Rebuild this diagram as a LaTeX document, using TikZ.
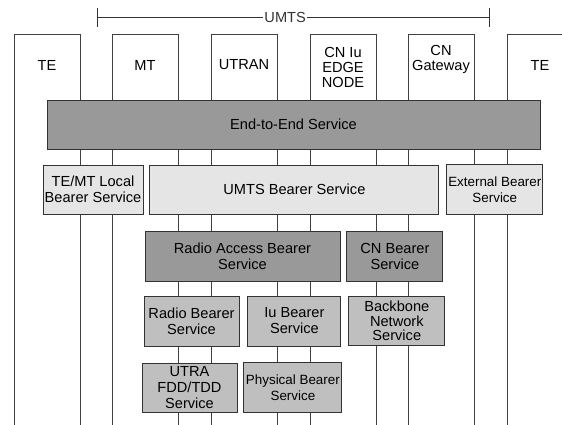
\documentclass[tikz,border=0pt]{standalone}
\usepackage{fontspec}
\setmainfont{Liberation Sans}
\usetikzlibrary{positioning}

\begin{document}
\begin{tikzpicture}[
  x=1pt, y=-1pt, line width=0.9pt,
  font=\fontsize{14.6}{16}\selectfont,
  col/.style={draw=black!75,anchor=north,minimum width=66pt,minimum height=420pt,inner sep=0pt},
  lbl/.style={align=center,inner sep=0pt},
  svc/.style={draw=black!80,align=center,inner sep=1pt,minimum height=49pt},
  dk/.style={svc,fill=black!40},
  lt/.style={svc,fill=black!10},
  md/.style={svc,fill=black!25},
  sm/.style={font=\fontsize{13.4}{15.5}\selectfont}
]
\useasboundingbox (0,0) rectangle (562,425);
\clip (0,0) rectangle (562,425);

% columns of the network elements
\foreach \x/\n/\y/\t in {47/te1/65/TE, 145/mt/65/MT, 244/utran/65/UTRAN,
    343/cniu/67/{CN Iu\\EDGE\\NODE}, 441/cngw/59/{CN\\Gateway}, 540/te2/65/TE}{
  \node[col] (c-\n) at (\x,34) {};
  \node[lbl,font=\fontsize{14.6}{15}\selectfont] (\n) at (\x,\y) {\t};
}

% UMTS bracket
\coordinate (ul) at (97,17);
\coordinate (ur) at (489,17);
\draw[black!80] (ul) -- node[pos=0.48,fill=white,inner sep=1pt]{UMTS} (ur);
\draw[black!80] ([yshift=9pt]ul) -- ([yshift=-10pt]ul);
\draw[black!80] ([yshift=9pt]ur) -- ([yshift=-10pt]ur);

% bearer services
\node[dk,minimum width=493pt] (e2e) at (293.5,124.5) {End-to-End Service};

\node[lt,minimum width=100pt] (local) at (93,189.5) {TE/MT Local\\Bearer Service};
\node[lt,minimum width=289pt,right=6pt of local] (umtsb) {UMTS Bearer Service};
\node[lt,sm,minimum width=96pt,minimum height=50pt,right=7pt of umtsb] (ext) {External Bearer\\Service};

\node[dk,minimum width=195pt,minimum height=50pt] (rab) at (242.5,256) {Radio Access Bearer\\Service};
\node[dk,minimum width=96pt,minimum height=50pt,right=6pt of rab] (cnb) {CN Bearer\\Service};

\node[md,minimum width=95pt,minimum height=50pt] (rb) at (191.5,321) {Radio Bearer\\Service};
\node[md,minimum width=93pt,minimum height=50pt,right=8pt of rb] (iub) {Iu Bearer\\Service};
\node[md,minimum width=96pt,right=7pt of iub,font=\fontsize{14.6}{14.5}\selectfont] (bb) {Backbone\\Network\\Service};

\node[md,minimum width=95pt] (utra) at (189.5,387.5) {UTRA\\FDD/TDD\\Service};
\node[md,sm,minimum width=98pt,minimum height=50pt,right=6pt of utra] (phys) {Physical Bearer\\Service};
\end{tikzpicture}
\end{document}
